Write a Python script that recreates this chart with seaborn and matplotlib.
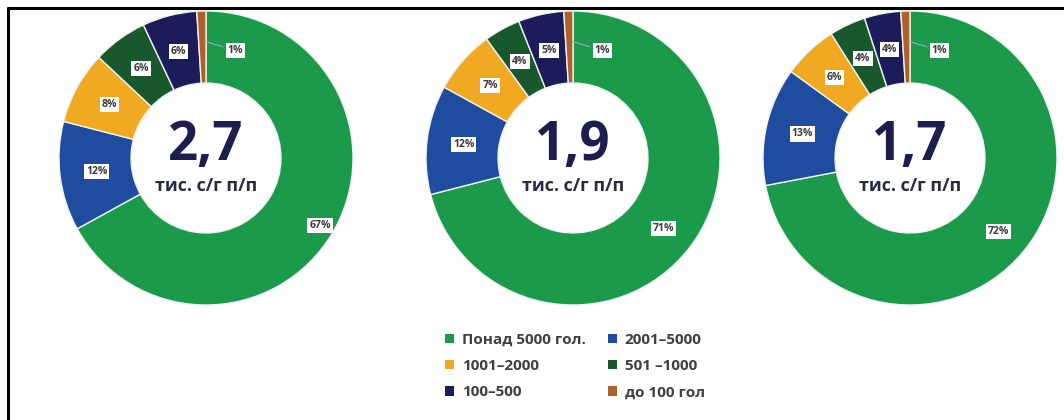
import numpy as np
import matplotlib
matplotlib.use("Agg")
import matplotlib.pyplot as plt
from matplotlib.lines import Line2D
from matplotlib.patches import Patch
import seaborn as sns

# Data
groups = ["Понад 5000 гол.", "2001–5000", "1001–2000", "501 –1000", "100–500", "до 100 гол"]
shares_1 = [67, 12, 8, 6, 6, 1]
shares_2 = [71, 12, 7, 4, 5, 1]
shares_3 = [72, 13, 6, 4, 4, 1]
centre_values = ["2,7", "1,9", "1,7"]
centre_unit = "тис. с/г п/п"
colors = ["#1a9a4a", "#1f4c9f", "#f0a920", "#18582c", "#1d1c5a", "#b0602a"]

sns.set_theme(style="white")
plt.rcParams["font.family"] = ["Open Sans", "DejaVu Sans"]
palette = sns.color_palette(colors)

fig = plt.figure(figsize=(10.64, 4.2), dpi=100)
W, H = 1064, 420

centres = [(206, 158), (573, 158), (910, 158)]
rad = 147
big_label_r = [0.9, 0.78, 0.78]

for data, (cx, cy), val, br in zip([shares_1, shares_2, shares_3], centres, centre_values, big_label_r):
    ax = fig.add_axes([(cx - rad) / W, (H - cy - rad) / H, 2 * rad / W, 2 * rad / H])
    wedges, _ = ax.pie(data, colors=palette, startangle=90, counterclock=False,
                       wedgeprops=dict(width=0.49, edgecolor="#eef2f0", linewidth=1.0))
    ax.set_xlim(-1, 1)
    ax.set_ylim(-1, 1)
    ax.set_aspect("equal")
    ax.axis("off")

    box = dict(boxstyle="square,pad=0.2", fc="white", ec="none")
    for i, (w, v) in enumerate(zip(wedges, data)):
        ang = np.deg2rad((w.theta1 + w.theta2) / 2)
        r = br if i == 0 else 0.75
        x, y = r * np.cos(ang), r * np.sin(ang)
        if i == len(data) - 1:
            # small last slice: label pushed to the right with a leader line
            ax.annotate(f"{v}%", xy=(0.8 * np.cos(ang), 0.8 * np.sin(ang)),
                        xytext=(0.2, 0.73),
                        fontsize=7.5, fontweight="bold", color="#3a3a3a",
                        ha="center", va="center", bbox=box,
                        arrowprops=dict(arrowstyle="-", color="#9aaab0", lw=0.8))
        else:
            ax.text(x, y, f"{v}%", fontsize=7.5, fontweight="bold", color="#3a3a3a",
                    ha="center", va="center", bbox=box)

    ax.text(0, 0.08, val, fontsize=38, fontweight="bold", color="#1e1e4e",
            ha="center", va="center")
    ax.text(0, -0.19, centre_unit, fontsize=13, fontweight="bold", color="#2a2a48",
            ha="center", va="center")

handles = [Patch(facecolor=c, edgecolor="none") for c in palette]
order = [0, 2, 4, 1, 3, 5]
fig.legend([handles[i] for i in order], [groups[i] for i in order],
           ncol=2, loc="center", bbox_to_anchor=(575 / W, 1 - 366 / H),
           frameon=False, handlelength=0.6, handleheight=0.6,
           handletextpad=0.5, columnspacing=1.45, labelspacing=0.8,
           prop=dict(weight="bold", size=11))
for t in fig.legends[0].get_texts():
    t.set_color("#404040")

# frame lines (top and left)
fig.add_artist(Line2D([8 / W, 1], [1 - 8 / H, 1 - 8 / H], color="black", lw=2.2))
fig.add_artist(Line2D([8 / W, 8 / W], [0, 1 - 8 / H], color="black", lw=2.2))

fig.savefig("out.png", dpi=100, facecolor="white")
